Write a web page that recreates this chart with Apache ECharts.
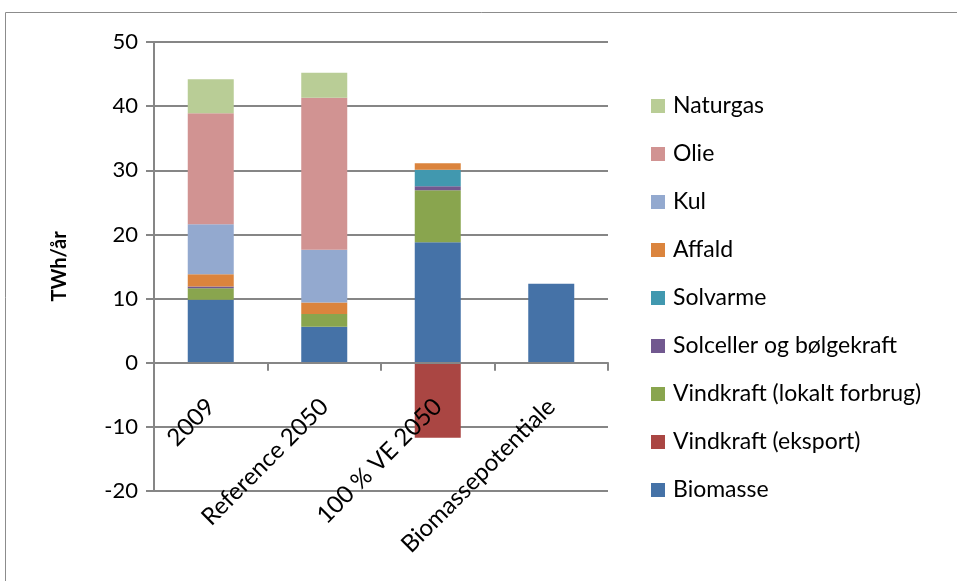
<!DOCTYPE html>
<html><head><meta charset="utf-8">
<script src="https://cdn.jsdelivr.net/npm/echarts@6/dist/echarts.min.js"></script>
<style>html,body{margin:0;padding:0;background:#fff}#c{width:957px;height:581px}</style>
</head><body><div id="c"></div>
<script>
const categories = ['2009', 'Reference 2050', '100 % VE 2050', 'Biomassepotentiale'];
const biomasse = [9.8, 5.6, 18.8, 12.3];
const vindEksport = [0, 0, -11.7, 0];
const vindLokalt = [1.8, 2.0, 8.1, 0];
const solceller = [0.3, 0, 0.6, 0];
const solvarme = [0, 0, 2.6, 0];
const affald = [1.9, 1.8, 1.0, 0];
const kul = [7.8, 8.2, 0, 0];
const olie = [17.3, 23.7, 0, 0];
const naturgas = [5.3, 3.9, 0, 0];
const yTicks = [-20, -10, 0, 10, 20, 30, 40, 50];

const seriesDefs = [
  ['Biomasse', biomasse, '#4572A7'],
  ['Vindkraft (eksport)', vindEksport, '#AA4643'],
  ['Vindkraft (lokalt forbrug)', vindLokalt, '#89A54E'],
  ['Solceller og bølgekraft', solceller, '#71588F'],
  ['Solvarme', solvarme, '#4198AF'],
  ['Affald', affald, '#DB843D'],
  ['Kul', kul, '#93A9CF'],
  ['Olie', olie, '#D19392'],
  ['Naturgas', naturgas, '#B9CD96']
];
const font = 'Lato, "Open Sans", sans-serif';
const gridTop = 42, gridHeight = 449;
const yMin = -20, yMax = 50;
const zeroOffset = -gridHeight * (0 - yMin) / (yMax - yMin);
const chart = echarts.init(document.getElementById('c'));
chart.setOption({
  animation: false,
  graphic: [{type:'rect', shape:{x:5.5,y:12.5,width:960,height:600}, style:{fill:'none', stroke:'#8c8c8c', lineWidth:1}}],
  grid: {left: 154, top: gridTop, width: 454, height: gridHeight, containLabel: false, outerBoundsMode: 'none'},
  legend: {
    orient: 'vertical', left: 651, top: 94, padding: 0, itemWidth: 14, itemHeight: 14, itemGap: 24,
    icon: 'rect',
    data: seriesDefs.map(s => s[0]).reverse(),
    textStyle: {fontFamily: font, fontSize: 23, lineHeight: 24, color: '#000', padding:[0,0,0,3]}
  },
  xAxis: {
    type: 'category', data: categories, position: 'bottom', offset: zeroOffset, z: 10,
    axisLine: {onZero: false, lineStyle: {color: '#868686', width: 2}},
    axisTick: {show: true, length: 8, lineStyle: {color: '#868686', width: 2}},
    axisLabel: {rotate: 45, fontFamily: font, fontSize: 24, color: '#000', margin: 40, interval: 0}
  },
  yAxis: {
    type: 'value', min: yMin, max: yMax, interval: 10,
    name: 'TWh/år', nameLocation: 'middle', nameGap: 84, nameRotate: 90,
    nameTextStyle: {fontFamily: font, fontSize: 20, fontWeight: 'bold', color: '#000'},
    axisLine: {show: true, lineStyle: {color: '#868686', width: 2}},
    axisTick: {show: true, length: 8, lineStyle: {color: '#868686', width: 2}},
    axisLabel: {fontFamily: font, fontSize: 22, color: '#000', margin: 16,
      formatter: v => yTicks.includes(v) ? String(v) : ''},
    splitLine: {lineStyle: {color: '#868686', width: 2}}
  },
  series: seriesDefs.map(([name, data, color]) => ({
    name, type: 'bar', stack: 'total', data, barWidth: 46,
    itemStyle: {color}
  }))
});
</script></body></html>
